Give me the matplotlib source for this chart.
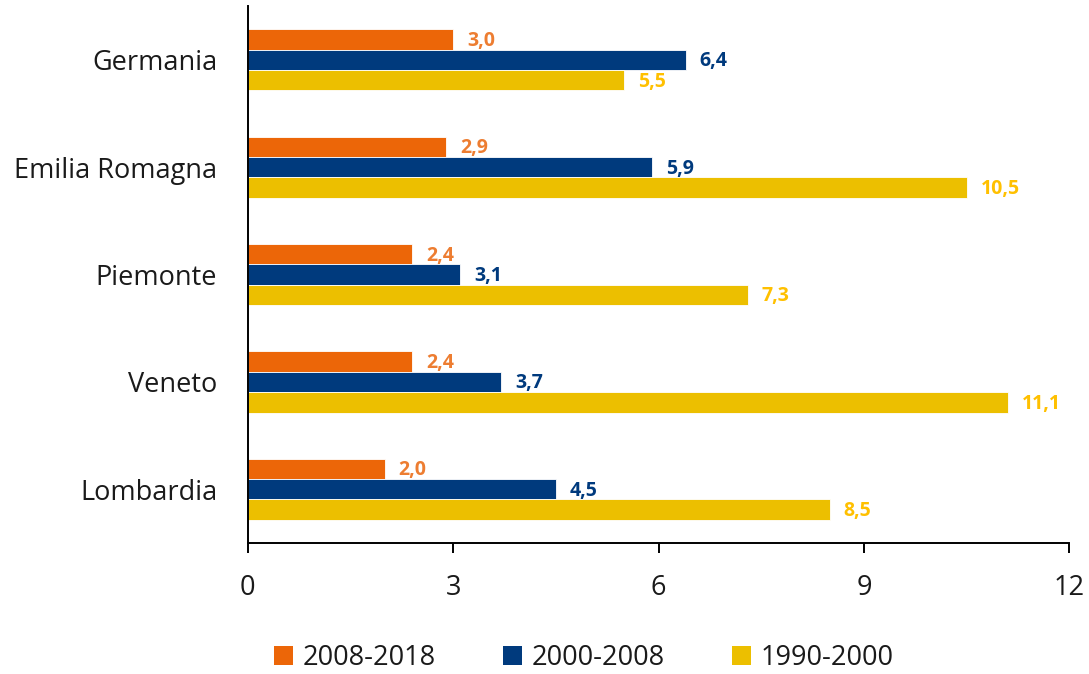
import matplotlib
matplotlib.use("Agg")
import matplotlib.pyplot as plt
from matplotlib.patches import Patch
import numpy as np

plt.rcParams['font.family'] = ['Open Sans', 'DejaVu Sans']

categories = ["Germania", "Emilia Romagna", "Piemonte", "Veneto", "Lombardia"]
series_names = ["2008-2018", "2000-2008", "1990-2000"]
v_2008_2018 = [3.0, 2.9, 2.4, 2.4, 2.0]
v_2000_2008 = [6.4, 5.9, 3.1, 3.7, 4.5]
v_1990_2000 = [5.5, 10.5, 7.3, 11.1, 8.5]
xticks = [0, 3, 6, 9, 12]

bar_colors = ["#EC6608", "#003A7D", "#ECBF00"]
label_colors = ["#ED7D31", "#003A7D", "#FFC000"]

fig = plt.figure(figsize=(10.89, 6.74), dpi=100)
ax = fig.add_axes([0.2275, 0.1944, 0.7545, 0.7966])

n = len(categories)
centers = np.arange(n)[::-1]
h = 0.19
offsets = [h, 0, -h]
all_vals = [v_2008_2018, v_2000_2008, v_1990_2000]

for vals, off, bc, lc in zip(all_vals, offsets, bar_colors, label_colors):
    bars = ax.barh(centers + off, vals, height=h, color=bc, edgecolor='white', linewidth=0.6)
    for b, v in zip(bars, vals):
        ax.annotate(f"{v:.1f}".replace('.', ','),
                    xy=(b.get_width(), b.get_y() + b.get_height() / 2),
                    xytext=(10, -1), textcoords='offset points',
                    ha='left', va='center', color=lc, fontsize=14, fontweight='bold')

ax.set_xlim(0, 12)
ax.set_ylim(-0.5, 4.5)
ax.set_xticks(xticks)
ax.set_xticklabels([str(t) for t in xticks])
ax.set_yticks(centers)
ax.set_yticklabels(categories)

for s in ['top', 'right']:
    ax.spines[s].set_visible(False)
for s in ['left', 'bottom']:
    ax.spines[s].set_linewidth(1.4)
    ax.spines[s].set_color('black')

ax.tick_params(axis='y', length=0, pad=22, labelsize=19.5, labelcolor='#1a1a1a')
ax.tick_params(axis='x', length=7, width=1.4, direction='out', pad=15, labelsize=19.5, labelcolor='#1a1a1a')

handles = [Patch(facecolor=c, edgecolor='none') for c in bar_colors]
fig.legend(handles, series_names, loc='center', bbox_to_anchor=(0.536, 0.024),
           ncol=3, frameon=False, fontsize=19.5, handlelength=0.68, handleheight=0.68,
           handletextpad=0.36, columnspacing=2.5, labelcolor='#1a1a1a')

fig.savefig("out.png", dpi=100)
